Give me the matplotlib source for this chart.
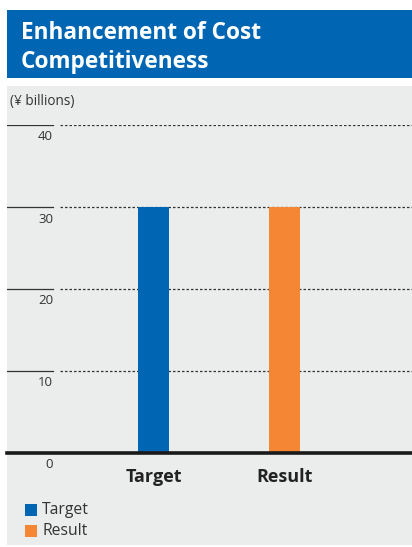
import matplotlib
matplotlib.use("Agg")
import matplotlib.pyplot as plt
from matplotlib.patches import Rectangle

categories = ["Target", "Result"]
values = [30, 30]
colors = ["#0066b3", "#f58634"]
yticks = [0, 10, 20, 30, 40]
title_lines = ["Enhancement of Cost", "Competitiveness"]
unit_label = "(¥ billions)"

plt.rcParams['font.family'] = ['Open Sans', 'DejaVu Sans']

W, H = 412, 547
fig = plt.figure(figsize=(W / 100, H / 100), dpi=100)
fig.patch.set_facecolor("white")

def fx(px):
    return px / W

def fy(py):
    return 1 - py / H

# header
fig.patches.append(Rectangle((fx(7), fy(78)), fx(412) - fx(7), (78 - 10) / H,
                             transform=fig.transFigure, facecolor="#0066b3",
                             edgecolor="none", zorder=-2))
# gray panel
fig.patches.append(Rectangle((fx(7), fy(545)), fx(412) - fx(7), (545 - 86) / H,
                             transform=fig.transFigure, facecolor="#ebecec",
                             edgecolor="none", zorder=-2))

fig.text(fx(21), fy(33), title_lines[0], color="white", fontsize=16.3,
         fontweight="bold", va="center", ha="left")
fig.text(fx(21), fy(62), title_lines[1], color="white", fontsize=16.3,
         fontweight="bold", va="center", ha="left")

fig.text(fx(10), fy(102), unit_label, color="#333333", fontsize=9.8,
         va="center", ha="left")

# axes: x pixel 7..412, y pixel 453 (0) .. 125 (40)
ax = fig.add_axes([fx(7), fy(453), fx(412) - fx(7), (453 - 125) / H])
ax.set_facecolor("none")
ax.set_zorder(1)
for s in ax.spines.values():
    s.set_visible(False)
ax.set_xticks([])
ax.set_yticks([])
ax.set_ylim(0, 40)
ax.set_xlim(-1.118, 1.973)

x = list(range(len(categories)))
ax.bar(x, values, width=0.237, color=colors, zorder=3)

for t in yticks:
    if t == 0:
        ax.axhline(0, color="#1a1a1a", lw=2.6, zorder=4, clip_on=False)
    else:
        ax.axhline(t, xmin=0, xmax=46 / 405, color="#333333", lw=0.9, zorder=2)
        ax.axhline(t, xmin=53 / 405, xmax=1, color="#333333", lw=0.9,
                   linestyle=(0, (2, 1.6)), zorder=2)
    ax.annotate(str(t), xy=(46 / 405, t), xycoords=("axes fraction", "data"),
                xytext=(0, -12), textcoords="offset pixels",
                ha="right", va="center", fontsize=9.5, color="#333333",
                annotation_clip=False)

for xi, c in zip(x, categories):
    ax.annotate(c, xy=(xi, 0), xycoords="data", xytext=(0, -24),
                textcoords="offset pixels", ha="center", va="center",
                fontsize=13, fontweight="bold", color="#222222",
                annotation_clip=False)

# legend
for i, (c, col) in enumerate(zip(categories, colors)):
    py = 510 + i * 21
    fig.patches.append(Rectangle((fx(25), fy(py + 6)), fx(37) - fx(25), 12 / H,
                                 transform=fig.transFigure, facecolor=col,
                                 edgecolor="none"))
    fig.text(fx(42), fy(py), c, fontsize=11.3, color="#333333",
             va="center", ha="left")

fig.savefig("out.png", dpi=100)
